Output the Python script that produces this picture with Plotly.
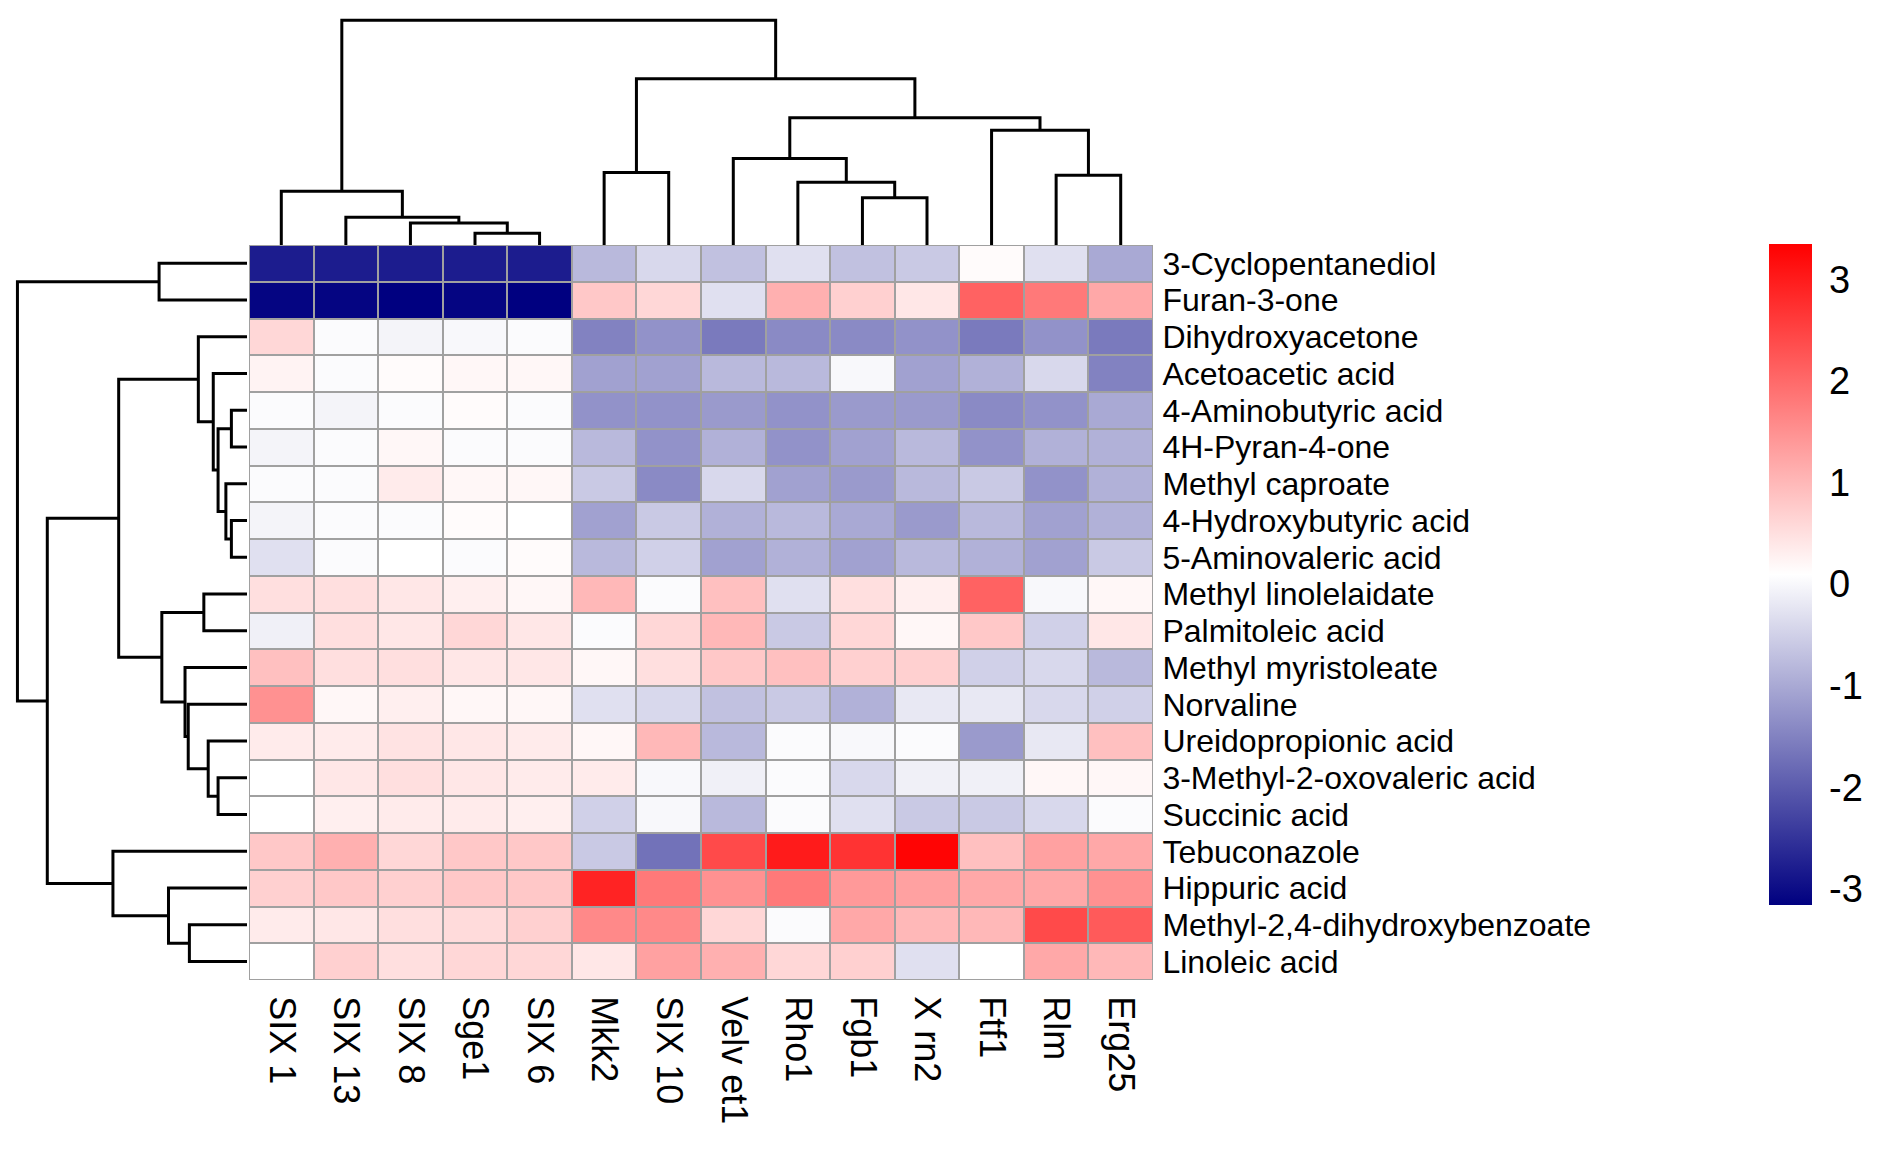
import plotly.graph_objects as go

# ---------------- data ----------------
row_labels = ["3-Cyclopentanediol", "Furan-3-one", "Dihydroxyacetone", "Acetoacetic acid",
              "4-Aminobutyric acid", "4H-Pyran-4-one", "Methyl caproate", "4-Hydroxybutyric acid",
              "5-Aminovaleric acid", "Methyl linolelaidate", "Palmitoleic acid", "Methyl myristoleate",
              "Norvaline", "Ureidopropionic acid", "3-Methyl-2-oxovaleric acid", "Succinic acid",
              "Tebuconazole", "Hippuric acid", "Methyl-2,4-dihydroxybenzoate", "Linoleic acid"]

col_labels = ["SIX 1", "SIX 13", "SIX 8", "Sge1", "SIX 6", "Mkk2", "SIX 10", "Velv et1",
              "Rho1", "Fgb1", "X rn2", "Ftf1", "Rlm", "Erg25"]

# one list per metabolite, values in column order above
cyclopentanediol   = [-2.8, -2.8, -2.8, -2.8, -2.8, -0.8, -0.4, -0.7, -0.3, -0.7, -0.6, 0.15, -0.3, -1.0]
furan_3_one        = [-3.1, -3.1, -3.16, -3.1, -3.16, 0.8, 0.6, -0.3, 1.1, 0.7, 0.4, 2.1, 1.8, 1.2]
dihydroxyacetone   = [0.6, 0.05, -0.05, 0.0, 0.05, -1.5, -1.3, -1.6, -1.4, -1.4, -1.3, -1.6, -1.3, -1.6]
acetoacetic_acid   = [0.25, 0.05, 0.15, 0.2, 0.2, -1.1, -1.1, -0.8, -0.8, 0.0, -1.1, -0.9, -0.4, -1.5]
aminobutyric_acid  = [0.05, -0.05, 0.05, 0.15, 0.05, -1.3, -1.3, -1.2, -1.3, -1.2, -1.2, -1.4, -1.3, -1.0]
pyran_4_one        = [-0.05, 0.05, 0.2, 0.05, 0.05, -0.8, -1.3, -0.9, -1.3, -1.1, -0.8, -1.3, -0.9, -0.9]
methyl_caproate    = [0.05, 0.05, 0.35, 0.2, 0.2, -0.6, -1.4, -0.4, -1.1, -1.2, -0.8, -0.6, -1.3, -0.9]
hydroxybutyric     = [-0.05, 0.05, 0.05, 0.15, 0.1, -1.1, -0.6, -0.9, -0.8, -1.0, -1.2, -0.8, -1.1, -0.9]
aminovaleric_acid  = [-0.3, 0.05, 0.1, 0.05, 0.15, -0.8, -0.5, -1.1, -0.9, -1.1, -0.8, -0.9, -1.1, -0.6]
methyl_linolelaid  = [0.5, 0.5, 0.4, 0.3, 0.2, 1.0, 0.05, 0.9, -0.3, 0.5, 0.3, 2.1, 0.0, 0.2]
palmitoleic_acid   = [-0.1, 0.5, 0.4, 0.6, 0.4, 0.05, 0.6, 1.0, -0.6, 0.6, 0.2, 0.8, -0.5, 0.4]
methyl_myristoleat = [0.9, 0.5, 0.5, 0.4, 0.4, 0.2, 0.5, 0.8, 0.9, 0.7, 0.7, -0.5, -0.4, -0.8]
norvaline          = [1.5, 0.2, 0.3, 0.2, 0.2, -0.3, -0.4, -0.7, -0.6, -0.9, -0.2, -0.2, -0.4, -0.5]
ureidopropionic    = [0.35, 0.35, 0.45, 0.4, 0.35, 0.2, 1.0, -0.8, 0.05, 0.0, 0.05, -1.2, -0.2, 0.9]
methyl_oxovaleric  = [0.1, 0.4, 0.5, 0.4, 0.35, 0.35, 0.0, -0.1, 0.05, -0.4, -0.1, -0.1, 0.2, 0.2]
succinic_acid      = [0.1, 0.3, 0.35, 0.35, 0.3, -0.5, 0.0, -0.8, 0.05, -0.3, -0.6, -0.6, -0.4, 0.05]
tebuconazole       = [0.8, 1.1, 0.6, 0.8, 0.8, -0.6, -1.7, 2.4, 3.0, 2.7, 3.3, 0.9, 1.3, 1.2]
hippuric_acid      = [0.7, 0.8, 0.7, 0.8, 0.8, 2.9, 1.8, 1.5, 1.8, 1.4, 1.3, 1.2, 1.2, 1.5]
methyl_dihydroxybz = [0.35, 0.4, 0.5, 0.55, 0.7, 1.6, 1.6, 0.6, 0.05, 1.2, 1.0, 1.0, 2.4, 2.2]
linoleic_acid      = [0.1, 0.7, 0.5, 0.6, 0.6, 0.4, 1.3, 1.1, 0.6, 0.7, -0.3, 0.1, 1.2, 1.0]

z_values = [cyclopentanediol, furan_3_one, dihydroxyacetone, acetoacetic_acid, aminobutyric_acid,
            pyran_4_one, methyl_caproate, hydroxybutyric, aminovaleric_acid, methyl_linolelaid,
            palmitoleic_acid, methyl_myristoleat, norvaline, ureidopropionic, methyl_oxovaleric,
            succinic_acid, tebuconazole, hippuric_acid, methyl_dihydroxybz, linoleic_acid]

color_min = -3.16
color_max = 3.35
colorbar_ticks = [-3, -2, -1, 0, 1, 2, 3]

# dendrogram merges: (child a, child b, relative height); ids >= n refer to earlier merges
col_merges = [(3, 4, 0.052), (2, 14, 0.098), (1, 15, 0.124), (0, 16, 0.239),
              (5, 6, 0.323), (9, 10, 0.21), (8, 19, 0.279), (7, 20, 0.385),
              (12, 13, 0.311), (11, 22, 0.511), (21, 23, 0.566), (18, 24, 0.74),
              (17, 25, 1.0)]
row_merges = [(0, 1, 0.383), (4, 5, 0.068), (7, 8, 0.068), (6, 22, 0.092),
              (21, 23, 0.126), (3, 24, 0.147), (2, 25, 0.212), (9, 10, 0.188),
              (14, 15, 0.126), (13, 28, 0.169), (12, 29, 0.256), (11, 30, 0.27),
              (27, 31, 0.371), (26, 32, 0.559), (18, 19, 0.251), (17, 34, 0.342),
              (16, 35, 0.584), (33, 36, 0.87), (20, 37, 1.0)]


def dendro_segments(n, merges):
    pos = {i: float(i) for i in range(n)}
    hgt = {i: 0.0 for i in range(n)}
    p_list, h_list = [], []
    for k, (a, b, h) in enumerate(merges):
        node = n + k
        p_list += [pos[a], pos[a], pos[b], pos[b], None]
        h_list += [hgt[a], h, h, hgt[b], None]
        pos[node] = (pos[a] + pos[b]) / 2
        hgt[node] = h
    return p_list, h_list


W, H = 1902, 1161
FONT = "Liberation Sans, Arial, sans-serif"
n_rows, n_cols = len(row_labels), len(col_labels)

hm_x0, hm_x1 = 249, 1153
hm_y0, hm_y1 = 245, 980

fig = go.Figure()

fig.add_trace(go.Heatmap(
    z=z_values, x=list(range(n_cols)), y=list(range(n_rows)),
    zmin=color_min, zmax=color_max,
    colorscale=[[0, "#000080"], [0.5, "#FFFFFF"], [1, "#FF0000"]],
    xgap=2, ygap=2,
    colorbar=dict(
        x=1769 / W, xanchor="left", xpad=0, ypad=0,
        thickness=43, thicknessmode="pixels",
        len=(905 - 244) / H, lenmode="fraction", y=1 - (244 + 905) / 2 / H, yanchor="middle",
        tickvals=colorbar_ticks, ticktext=[str(t) for t in colorbar_ticks],
        tickfont=dict(size=38, family=FONT, color="black"),
        ticks="outside", ticklen=10, tickcolor="rgba(0,0,0,0)",
        outlinewidth=0,
    ),
    hoverinfo="skip",
    xaxis="x", yaxis="y",
))

cx, cy = dendro_segments(n_cols, col_merges)
fig.add_trace(go.Scatter(x=cx, y=cy, mode="lines", line=dict(color="black", width=3),
                         xaxis="x2", yaxis="y2", hoverinfo="skip", showlegend=False))
ry, rx = dendro_segments(n_rows, row_merges)
fig.add_trace(go.Scatter(x=rx, y=ry, mode="lines", line=dict(color="black", width=3),
                         xaxis="x3", yaxis="y3", hoverinfo="skip", showlegend=False))

# grey grid background and border for the heatmap cells
fig.add_shape(type="rect", xref="x", yref="y", x0=-0.5, x1=n_cols - 0.5, y0=-0.5, y1=n_rows - 0.5,
              fillcolor="#A0A0A0", line=dict(width=0), layer="below")
fig.add_shape(type="rect", xref="x", yref="y", x0=-0.5, x1=n_cols - 0.5, y0=-0.5, y1=n_rows - 0.5,
              fillcolor="rgba(0,0,0,0)", line=dict(color="#A0A0A0", width=2), layer="above")

hidden = dict(visible=False, showgrid=False, zeroline=False, showticklabels=False)

fig.update_layout(
    width=W, height=H,
    margin=dict(l=0, r=0, t=0, b=0),
    paper_bgcolor="white", plot_bgcolor="rgba(0,0,0,0)",
    showlegend=False,
    font=dict(family=FONT, color="black"),
    xaxis=dict(domain=[hm_x0 / W, hm_x1 / W], range=[-0.5, n_cols - 0.5],
               tickvals=list(range(n_cols)), ticktext=col_labels, tickangle=90,
               tickfont=dict(size=36, family=FONT, color="black"),
               ticks="outside", ticklen=8, tickcolor="rgba(0,0,0,0)",
               showgrid=False, zeroline=False, showline=False, anchor="y"),
    yaxis=dict(domain=[1 - hm_y1 / H, 1 - hm_y0 / H], range=[n_rows - 0.5, -0.5],
               side="right", tickvals=list(range(n_rows)), ticktext=row_labels,
               tickfont=dict(size=32, family=FONT, color="black"),
               ticks="outside", ticklen=2, tickcolor="rgba(0,0,0,0)",
               showgrid=False, zeroline=False, showline=False, anchor="x"),
    xaxis2=dict(domain=[hm_x0 / W, hm_x1 / W], range=[-0.5, n_cols - 0.5], anchor="y2", **hidden),
    yaxis2=dict(domain=[1 - hm_y0 / H, 1 - 17 / H], range=[0, 1.015], anchor="x2", **hidden),
    xaxis3=dict(domain=[14 / W, (hm_x0 - 2) / W], range=[1.015, 0], anchor="y3", **hidden),
    yaxis3=dict(domain=[1 - hm_y1 / H, 1 - hm_y0 / H], range=[n_rows - 0.5, -0.5], anchor="x3", **hidden),
)

fig.write_html("out.html", config={"displayModeBar": False},
               post_script="document.body.style.margin='0';")
